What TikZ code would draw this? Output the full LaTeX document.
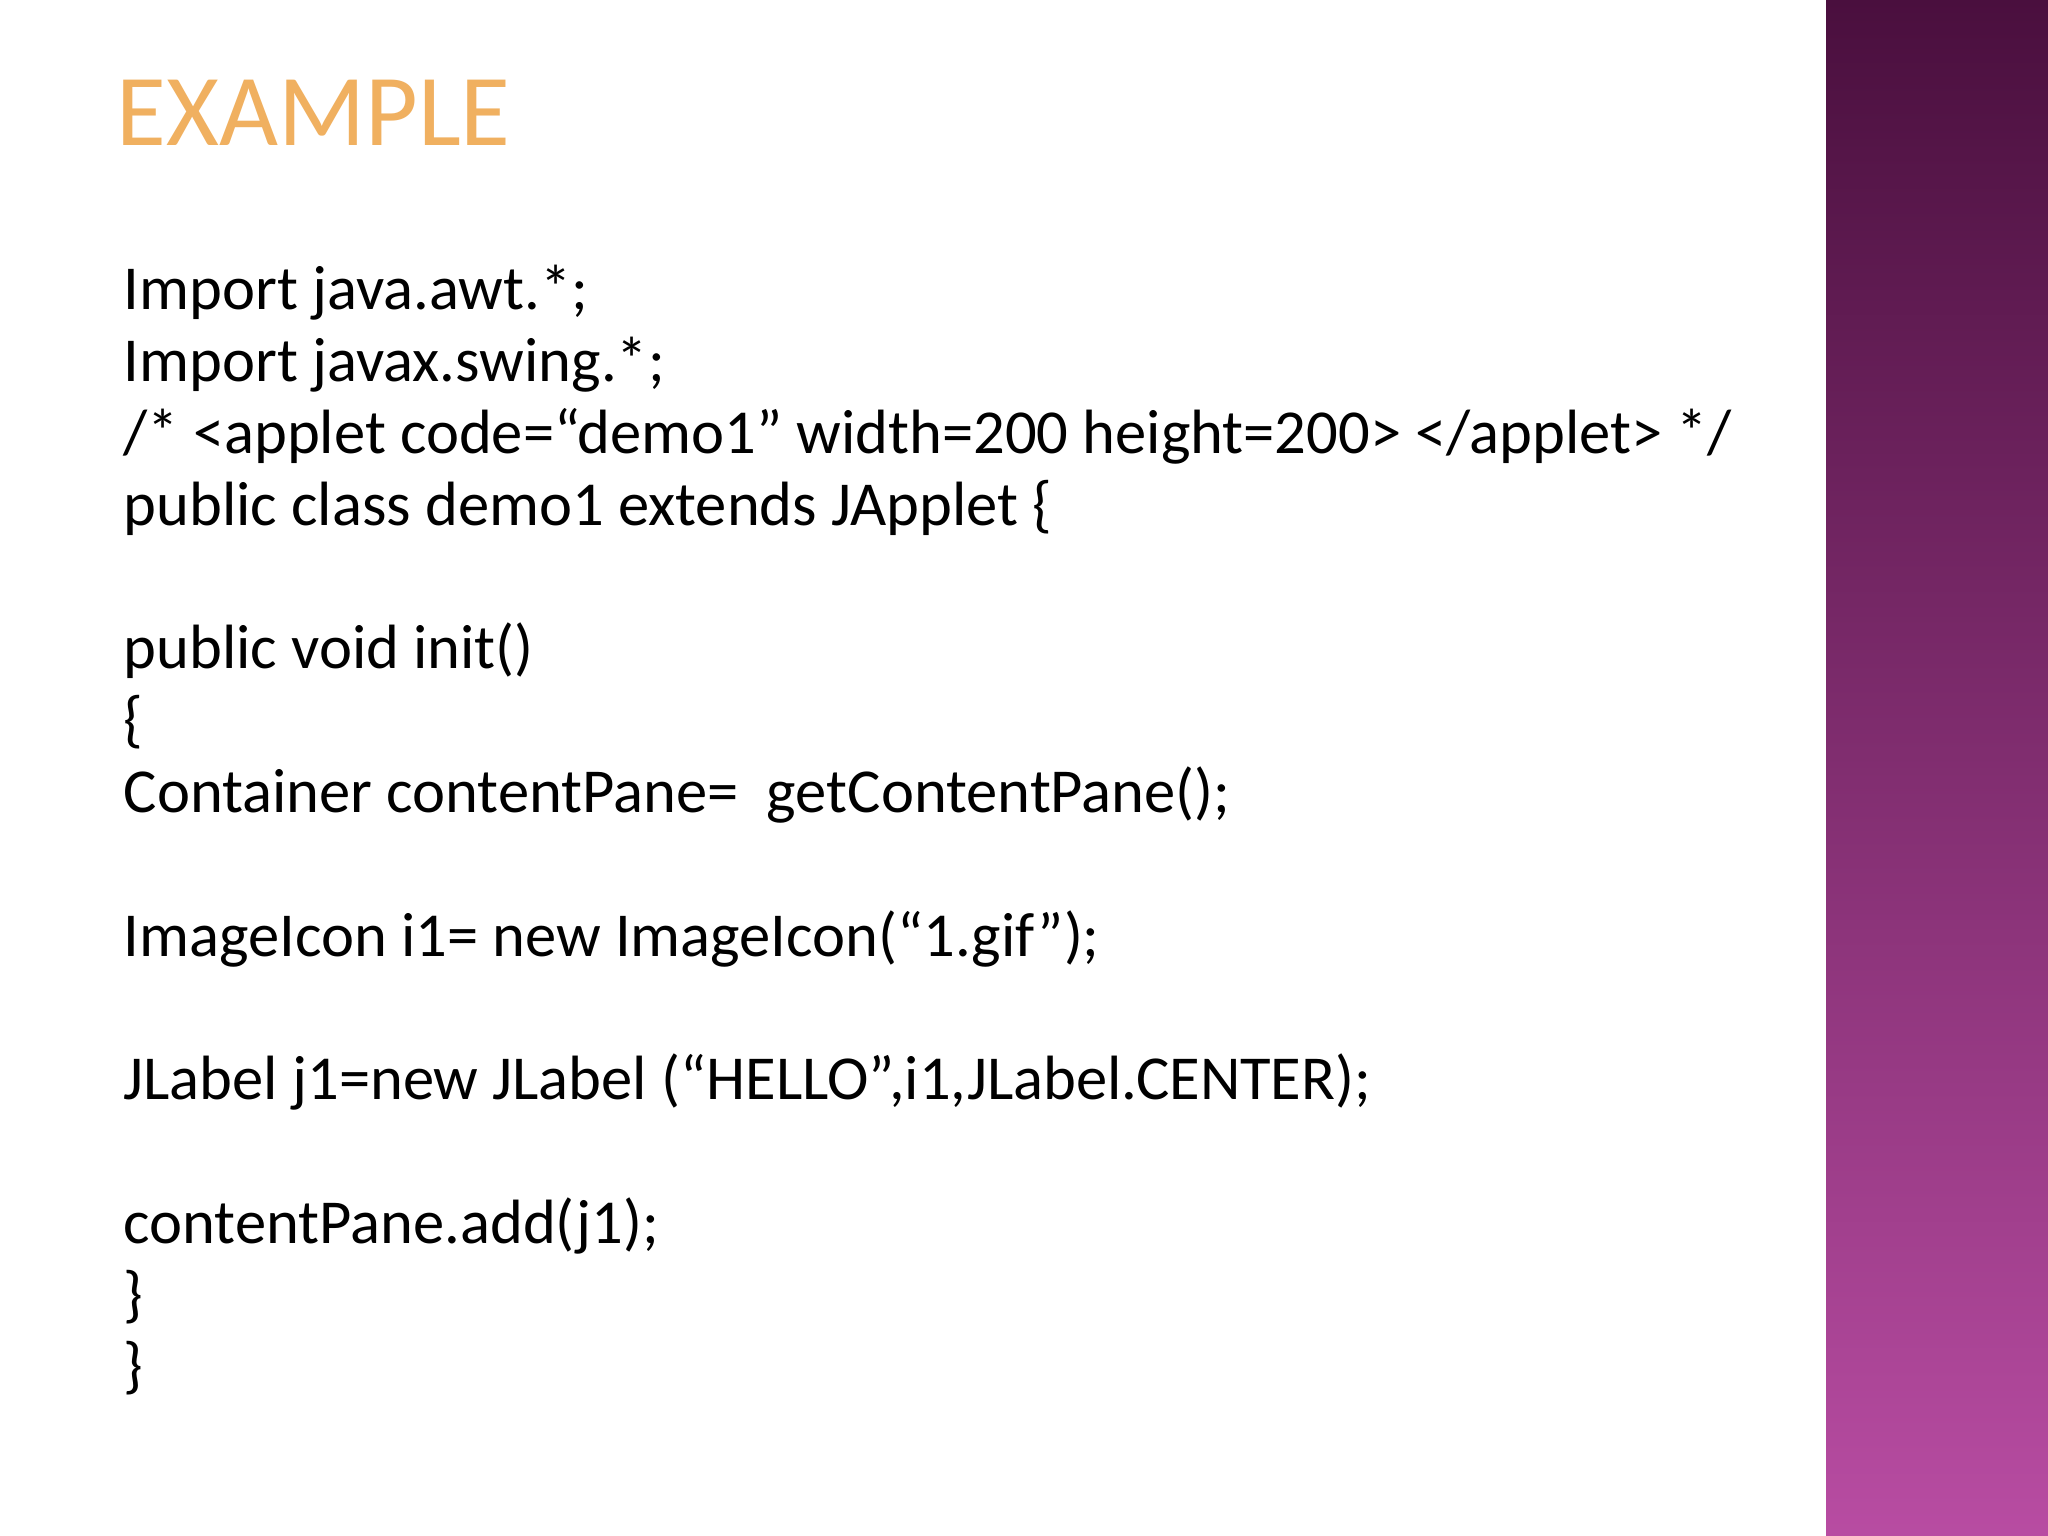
\documentclass[tikz,border=0pt]{standalone}
\usepackage{fontspec}
\setmainfont{Carlito}
\definecolor{ptop}{HTML}{4A0F3E}
\definecolor{pbot}{HTML}{B84CA2}
\definecolor{ttl}{HTML}{F0B060}
\tikzset{codeline/.style={anchor=base west,inner sep=0pt,font=\fontsize{17.8pt}{22pt}\selectfont}}
\begin{document}
\begin{tikzpicture}[x=1cm,y=1cm]
\useasboundingbox (0,0) rectangle (20.48,15.36);
\fill[white] (0,0) rectangle (20.48,15.36);
\shade[top color=ptop,bottom color=pbot] (18.26,0) rectangle (20.48,15.36);
\node[anchor=base west,inner sep=0pt,text=ttl,font=\fontsize{29pt}{31pt}\selectfont] (title) at (1.16,13.9) {EXAMPLE};
\foreach \i/\t in {0/{Import java.awt.*;},1/{Import javax.swing.*;},2/{/* <applet code=“demo1” width=200 height=200> </applet> */},3/{public class demo1 extends JApplet \{},5/{public void init()},6/{\{},7/{Container contentPane=\ \ getContentPane();},9/{ImageIcon i1= new ImageIcon(“1.gif”);},11/{JLabel j1=new JLabel (“HELLO”,i1,JLabel.CENTER);},13/{contentPane.add(j1);},14/{\}},15/{\}}}
  \node[codeline] (l\i) at (1.23,{12.26-0.718*\i}) {\t};
\end{tikzpicture}
\end{document}
